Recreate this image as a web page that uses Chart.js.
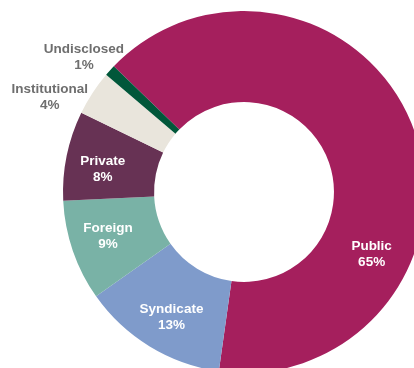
<!DOCTYPE html>
<html>
<head>
<meta charset="utf-8">
<script src="https://cdn.jsdelivr.net/npm/chart.js@4"></script>
<style>
  html, body { margin: 0; padding: 0; background: #fff; }
  #wrap { position: relative; width: 414px; height: 368px; overflow: hidden; }
  #investors { position: absolute; left: 0; top: 0; }
</style>
</head>
<body>
<div id="wrap">
  <canvas id="investors" width="488" height="384"></canvas>
</div>
<script>
// Investor type shares (%)
const categories = ['Public', 'Syndicate', 'Foreign', 'Private', 'Institutional', 'Undisclosed'];
const shares = [65, 13, 9, 8, 4, 1];
const sliceColors = ['#a51f5d', '#7f9bcb', '#79b2a6', '#673254', '#e9e5dc', '#01573a'];

// label placement around the centre: angle in degrees clockwise from top, r in px
const labelSpots = [
    { angle: 116, r: 142, outside: false },
    { angle: 210, r: 145, outside: false },
    { angle: 252, r: 143, outside: false },
    { angle: 279, r: 143, outside: false },
    { angle: 296, r: 216, outside: true },
    { angle: 310, r: 209, outside: true }
];

const sliceLabels = {
    id: 'sliceLabels',
    afterDatasetsDraw(chart) {
        const ctx = chart.ctx;
        const arcs = chart.getDatasetMeta(0).data;
        ctx.save();
        ctx.font = 'bold 13.5px "Liberation Sans", Arial, sans-serif';
        ctx.textAlign = 'center';
        ctx.textBaseline = 'middle';
        arcs.forEach((arc, i) => {
            const spot = labelSpots[i];
            const ang = (spot.angle - 90) * Math.PI / 180;
            const x = arc.x + Math.cos(ang) * spot.r;
            const y = arc.y + Math.sin(ang) * spot.r;
            ctx.fillStyle = spot.outside ? '#6e6e6e' : '#ffffff';
            ctx.fillText(categories[i], x, y - 8);
            ctx.fillText(shares[i] + '%', x, y + 8);
        });
        ctx.restore();
    }
};

new Chart(document.getElementById('investors'), {
    type: 'doughnut',
    data: {
        labels: categories,
        datasets: [{
            data: shares,
            backgroundColor: sliceColors,
            borderWidth: 0
        }]
    },
    options: {
        responsive: false,
        animation: false,
        rotation: -46,
        radius: 181,
        cutout: '49.7%',
        layout: { padding: 0 },
        events: [],
        plugins: {
            legend: { display: false },
            tooltip: { enabled: false }
        }
    },
    plugins: [sliceLabels]
});
</script>
</body>
</html>
